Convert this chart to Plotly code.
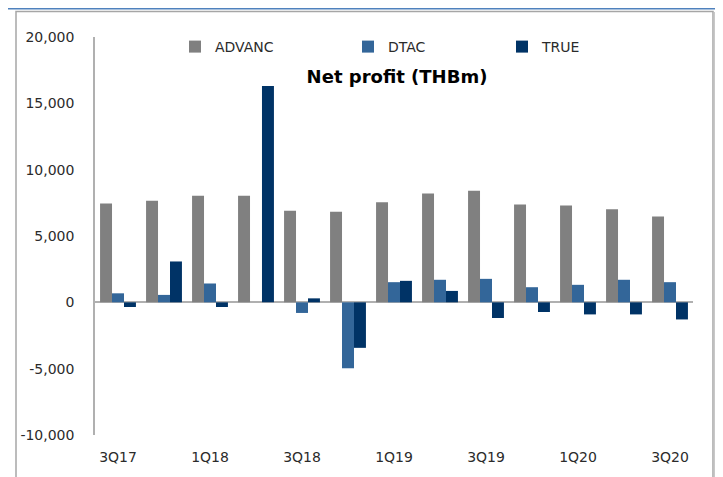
import plotly.graph_objects as go

quarters = ["3Q17", "4Q17", "1Q18", "2Q18", "3Q18", "4Q18", "1Q19",
            "2Q19", "3Q19", "4Q19", "1Q20", "2Q20", "3Q20"]
advanc = [7450, 7650, 8030, 8030, 6900, 6820, 7550, 8210, 8410, 7380, 7300, 7020, 6470]
dtac = [680, 560, 1420, 0, -800, -4970, 1520, 1700, 1770, 1140, 1320, 1700, 1520]
true_ = [-350, 3080, -350, 16300, 300, -3430, 1620, 860, -1180, -730, -910, -910, -1290]
tick_labels = ["3Q17", "1Q18", "3Q18", "1Q19", "3Q19", "1Q20", "3Q20"]
y_ticks = [-10000, -5000, 0, 5000, 10000, 15000, 20000]
y_tick_text = ["-10,000", "-5,000", "0", "5,000", "10,000", "15,000", "20,000"]

# page body has an 8px margin: figure starts at screen (8, 8)
OFF = 8
SW, SH = 723, 477                 # screen size
W, H = SW - OFF, SH - OFF         # figure size
# plot area in screen pixels
SX0, SX1, SY0, SY1 = 95, 693, 37, 435
L, R = SX0 - OFF, SW - SX1
T, B = SY0 - OFF, SH - SY1
pw, ph = SX1 - SX0, SY1 - SY0

def px(sx):
    return (sx - SX0) / pw

def py(sy):
    return (SY1 - sy) / ph

FONT = "DejaVu Sans"
TXT = "#2b2b2b"

fig = go.Figure()
series = [("ADVANC", advanc, "#808080", "legend"),
          ("DTAC", dtac, "#336699", "legend2"),
          ("TRUE", true_, "#003366", "legend3")]
for name, vals, col, lg in series:
    fig.add_trace(go.Bar(x=quarters, y=vals, name=name, marker_color=col,
                         marker_line_width=0, legend=lg, showlegend=True))

leg_common = dict(orientation="h", yanchor="middle", y=py(47), xanchor="left",
                  bgcolor="rgba(0,0,0,0)", borderwidth=0,
                  font=dict(family=FONT, size=14, color=TXT))

fig.update_layout(
    width=W, height=H,
    margin=dict(l=L, r=R, t=T, b=B, autoexpand=False),
    paper_bgcolor="white", plot_bgcolor="white",
    showlegend=True,
    barmode="group", bargap=0.22, bargroupgap=0,
    font=dict(family=FONT, size=14, color=TXT),
    title=dict(text="<b>Net profit (THBm)</b>", x=(397 - OFF) / W, xanchor="center",
               y=1 - (77 - OFF) / H, yanchor="middle", automargin=False,
               font=dict(family=FONT, size=18, color="black")),
    legend=dict(x=px(175), **leg_common),
    legend2=dict(x=px(348), **leg_common),
    legend3=dict(x=px(502), **leg_common),
    xaxis=dict(type="category", tickmode="array", tickvals=tick_labels,
               ticktext=tick_labels, showline=False, showgrid=False,
               ticks="", ticklabelstandoff=12, automargin=False,
               tickfont=dict(family=FONT, size=14, color=TXT)),
    yaxis=dict(range=[-10000, 20000], tickmode="array", tickvals=y_ticks,
               ticktext=y_tick_text,
               showgrid=False, showline=True, linecolor="#b0b0b0", linewidth=1.5,
               zeroline=True, zerolinecolor="#b0b0b0", zerolinewidth=1.5,
               ticks="", ticklabelstandoff=16, automargin=False,
               tickfont=dict(family=FONT, size=14, color=TXT)),
)

# outer frame and document header band
fig.add_shape(type="rect", xref="paper", yref="paper",
              x0=px(16), x1=px(713), y0=py(490), y1=py(11.5),
              line=dict(color="#a6a6a6", width=1.5), layer="below")
fig.add_shape(type="line", xref="paper", yref="paper",
              x0=px(714.5), x1=px(714.5), y0=py(490), y1=py(12),
              line=dict(color="#c8c8c8", width=1.5))
fig.add_shape(type="line", xref="paper", yref="paper",
              x0=px(0), x1=px(SW), y0=py(8.5), y1=py(8.5),
              line=dict(color="#4f81bd", width=2))

fig.write_html("out.html")
